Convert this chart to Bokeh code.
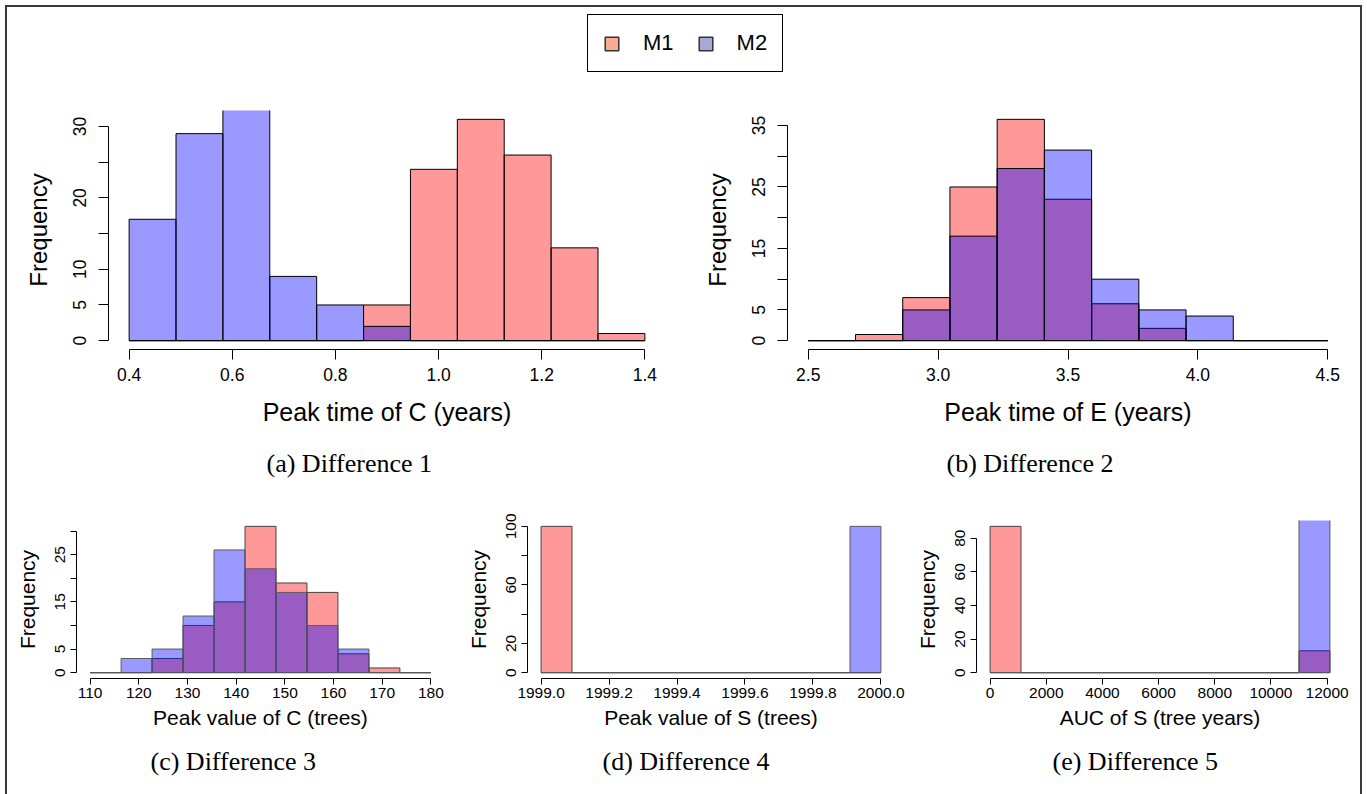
import numpy as np
from bokeh.plotting import figure
from bokeh.models import (Range1d, FixedTicker, NumeralTickFormatter, Title,
                          Legend, LegendItem, ColumnDataSource)
from bokeh.layouts import column, row
from bokeh.embed import file_html
from bokeh.resources import INLINE

# ---------------- data (11 equal-width bins per panel) ----------------
N_BINS = 11
series_names = ["M1", "M2"]

a_bin_range = (0.4, 1.4)
a_m1 = [0, 0, 0, 0, 0, 5, 24, 31, 26, 13, 1]
a_m2 = [17, 29, 38, 9, 5, 2, 0, 0, 0, 0, 0]

b_bin_range = (2.5, 4.5)
b_m1 = [0, 1, 7, 25, 36, 23, 6, 2, 0, 0, 0]
b_m2 = [0, 0, 5, 17, 28, 31, 10, 5, 4, 0, 0]

c_bin_range = (110, 180)
c_m1 = [0, 0, 3, 10, 15, 31, 19, 17, 4, 1, 0]
c_m2 = [0, 3, 5, 12, 26, 22, 17, 10, 5, 0, 0]

d_bin_range = (1999.0, 2000.0)
d_m1 = [100, 0, 0, 0, 0, 0, 0, 0, 0, 0, 0]
d_m2 = [0, 0, 0, 0, 0, 0, 0, 0, 0, 0, 100]

e_bin_range = (0, 12100)
e_m1 = [87, 0, 0, 0, 0, 0, 0, 0, 0, 0, 13]
e_m2 = [0, 0, 0, 0, 0, 0, 0, 0, 0, 0, 100]

a_xticks = [0.4, 0.6, 0.8, 1.0, 1.2, 1.4]
b_xticks = [2.5, 3.0, 3.5, 4.0, 4.5]
c_xticks = [110, 120, 130, 140, 150, 160, 170, 180]
d_xticks = [1999.0, 1999.2, 1999.4, 1999.6, 1999.8, 2000.0]
e_xticks = [0, 2000, 4000, 6000, 8000, 10000, 12000]

a_yticks = [0, 5, 10, 15, 20, 25, 30]
b_yticks = [0, 5, 10, 15, 20, 25, 30, 35]
c_yticks = [0, 5, 10, 15, 20, 25, 30]
d_yticks = [0, 20, 40, 60, 80, 100]
e_yticks = [0, 20, 40, 60, 80]

a_yhide = [15, 25]
b_yhide = [10, 20, 30]
c_yhide = [10, 20, 30]
d_yhide = [40, 80]
e_yhide = []

xlabels = ["Peak time of C (years)", "Peak time of E (years)",
           "Peak value of C (trees)", "Peak value of S (trees)",
           "AUC of S (tree years)"]
captions = ["(a) Difference 1", "(b) Difference 2", "(c) Difference 3",
            "(d) Difference 4", "(e) Difference 5"]

SANS = "Liberation Sans"
SERIF = "Liberation Serif"


def padded(lo, hi, frac=0.04):
    d = (hi - lo) * frac
    return (lo - d, hi + d)


def panel(w, h, borders, bin_range, m1, m2, xticks, xfmt, yticks, yhide,
          xlabel, caption, cap_offset, big):
    ymax = max(m1)
    xr = padded(*bin_range)
    yr = padded(0, ymax)
    p = figure(width=w, height=h, x_range=Range1d(*xr), y_range=Range1d(*yr),
               output_backend="svg", toolbar_location=None,
               min_border_left=borders[0], min_border_right=borders[1],
               min_border_top=borders[2], min_border_bottom=borders[3])
    edges = np.linspace(bin_range[0], bin_range[1], N_BINS + 1)
    edge1 = "black" if big else "#444444"
    edge2 = "black" if big else "#5a5a5a"
    s1 = ColumnDataSource(dict(left=edges[:-1], right=edges[1:], top=m1))
    s2 = ColumnDataSource(dict(left=edges[:-1], right=edges[1:], top=m2))
    p.quad(left="left", right="right", top="top", bottom=0, source=s1,
           fill_color="red", fill_alpha=0.4, line_color=edge1, line_width=1)
    p.quad(left="left", right="right", top="top", bottom=0, source=s2,
           fill_color="blue", fill_alpha=0.4, line_color=edge2, line_width=1)

    p.xgrid.visible = False
    p.ygrid.visible = False
    p.outline_line_color = None

    tick_font = "17.5px" if big else "15.5px"
    xlab_font = "25px" if big else "21px"
    ylab_font = "24px" if big else "21px"
    tlen = 10 if big else 6

    xa = p.xaxis[0]
    xa.ticker = FixedTicker(ticks=xticks)
    xa.formatter = NumeralTickFormatter(format=xfmt)
    xa.bounds = (xticks[0], xticks[-1])
    xa.minor_tick_line_color = None
    xa.major_tick_in = 0
    xa.major_tick_out = tlen
    xa.major_label_text_font = SANS
    xa.major_label_text_font_size = tick_font
    xa.major_label_text_color = "black"
    xa.major_label_standoff = 8 if big else 3
    xa.axis_label = xlabel
    xa.axis_label_text_font = SANS
    xa.axis_label_text_font_size = xlab_font
    xa.axis_label_text_font_style = "normal"
    xa.axis_label_text_color = "black"
    xa.axis_label_standoff = 14 if big else 5
    xa.axis_line_color = "black"
    xa.major_tick_line_color = "black"

    ya = p.yaxis[0]
    ya.ticker = FixedTicker(ticks=yticks)
    ya.major_label_overrides = {v: "" for v in yhide}
    ya.bounds = (yticks[0], yticks[-1])
    ya.minor_tick_line_color = None
    ya.major_tick_in = 0
    ya.major_tick_out = tlen
    ya.major_label_orientation = "vertical"
    ya.major_label_text_font = SANS
    ya.major_label_text_font_size = tick_font
    ya.major_label_text_color = "black"
    ya.major_label_standoff = 12 if big else 5
    ya.axis_label = "Frequency"
    ya.axis_label_text_font = SANS
    ya.axis_label_text_font_size = ylab_font
    ya.axis_label_text_font_style = "normal"
    ya.axis_label_text_color = "black"
    ya.axis_label_standoff = 19 if big else 14
    ya.axis_line_color = "black"
    ya.major_tick_line_color = "black"

    p.add_layout(Title(text=caption, align="left", offset=cap_offset,
                       text_font=SERIF, text_font_size="26px",
                       text_font_style="normal", text_color="black",
                       standoff=36 if big else 27), "below")
    return p


# top row: frames at y 110..349 inside a 415 px tall row that starts at y 83
pa = panel(673, 415, (101, 15, 27, 149), a_bin_range, a_m1, a_m2, a_xticks,
           "0.0", a_yticks, a_yhide, xlabels[0], captions[0], 158, True)
pb = panel(680, 415, (107, 12, 27, 149), b_bin_range, b_m1, b_m2, b_xticks,
           "0.0", b_yticks, b_yhide, xlabels[1], captions[1], 159, True)
# bottom row: frames at y 520..678 inside a 296 px tall row that starts at y 498
pc = panel(453, 296, (69, 16, 22, 116), c_bin_range, c_m1, c_m2, c_xticks,
           "0", c_yticks, c_yhide, xlabels[2], captions[2], 74, False)
pd = panel(449, 296, (67, 15, 22, 116), d_bin_range, d_m1, d_m2, d_xticks,
           "0.0", d_yticks, d_yhide, xlabels[3], captions[3], 75, False)
pe = panel(451, 296, (67, 17, 22, 116), e_bin_range, e_m1, e_m2, e_xticks,
           "0", e_yticks, e_yhide, xlabels[4], captions[4], 76, False)

# ---------------- legend strip ----------------
top = figure(width=1353, height=76, x_range=Range1d(0, 1), y_range=Range1d(0, 1),
             output_backend="svg", toolbar_location=None,
             x_axis_location=None, y_axis_location=None,
             min_border=0)
top.xgrid.visible = False
top.ygrid.visible = False
top.outline_line_color = None
# legend key proxies: placed outside the visible range, only their legend keys show
proxy = ColumnDataSource(dict(left=[2.0], right=[3.0], top=[3.0], bottom=[2.0]))
r1 = top.quad(left="left", right="right", top="top", bottom="bottom", source=proxy,
              fill_color="#F9AB93", line_color="#333333", line_width=1.5)
r2 = top.quad(left="left", right="right", top="top", bottom="bottom", source=proxy,
              fill_color="#A6A8D8", line_color="#333333", line_width=1.5)
leg = Legend(items=[LegendItem(label=series_names[0], renderers=[r1]),
                    LegendItem(label=series_names[1], renderers=[r2])],
             orientation="horizontal", location=(580, 11),
             glyph_width=17, glyph_height=17, label_standoff=23, spacing=23,
             padding=15, margin=0,
             label_text_font=SANS, label_text_font_size="22px",
             label_text_color="black",
             border_line_color="black", border_line_width=1.5,
             border_line_alpha=1.0,
             background_fill_color="white", background_fill_alpha=1.0)
top.add_layout(leg)

root = column(top, row(pa, pb), row(pc, pd, pe),
              styles={"margin-left": "5px", "margin-top": "5px",
                      "border-left": "2px solid #3a3a3a",
                      "border-top": "2px solid #3a3a3a",
                      "border-right": "2px solid #3a3a3a"})

open("out.html", "w").write(file_html(root, INLINE))
